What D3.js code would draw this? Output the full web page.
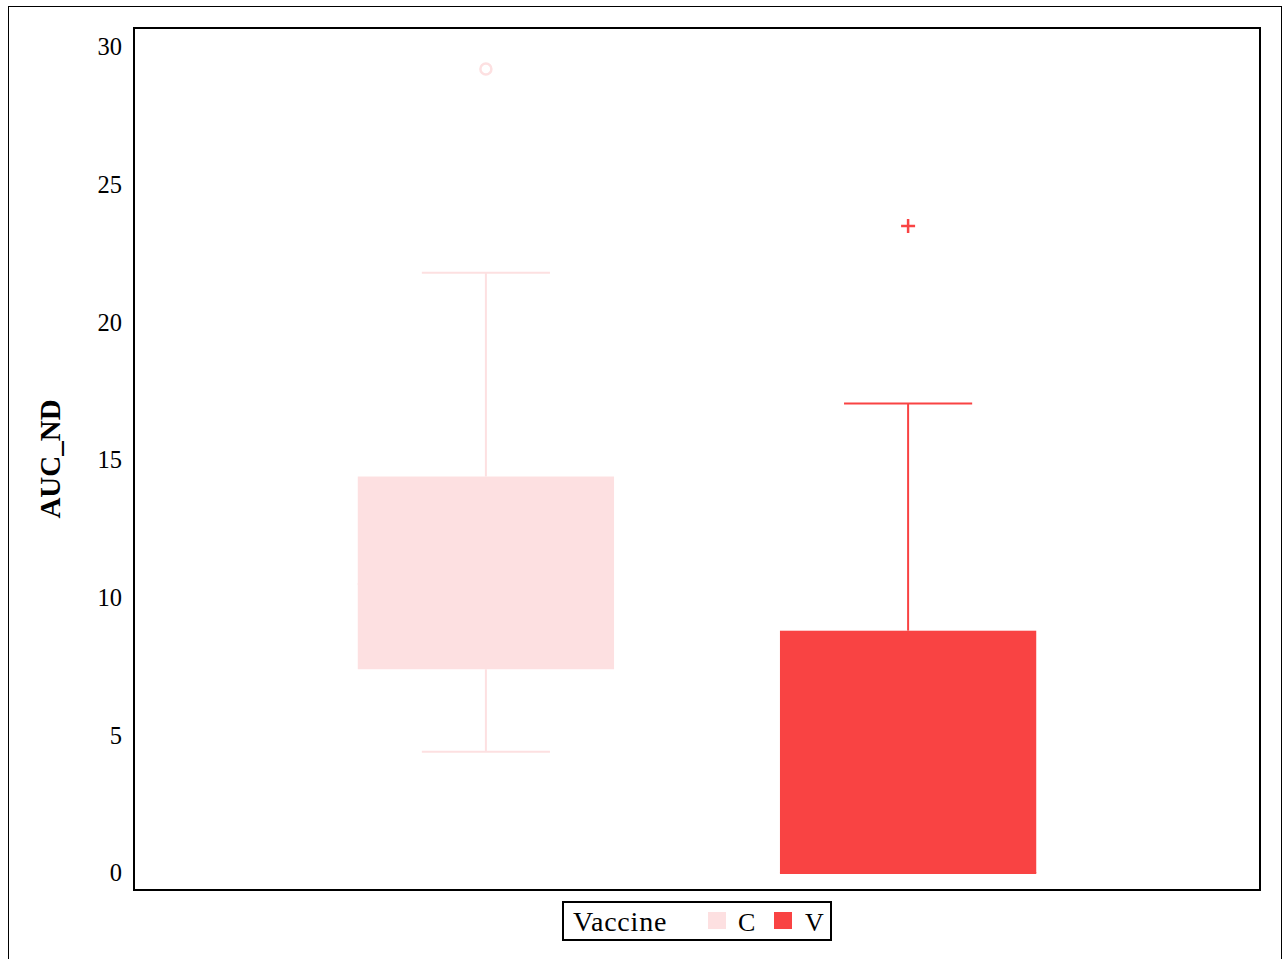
<!DOCTYPE html>
<html>
<head>
<meta charset="utf-8">
<script src="https://cdn.jsdelivr.net/npm/d3@7"></script>
<style>
  html, body { margin: 0; padding: 0; background: #fff; }
  svg { display: block; }
  text { font-family: "Liberation Serif", "Times New Roman", serif; fill: #000; }
</style>
</head>
<body>
<div id="chart"></div>
<script>
(() => {
  "use strict";

  // Box-plot summary per vaccine group
  const groups = ["C", "V"];
  const whiskerLow = [4.4, 0];
  const q1 = [7.4, 0];
  const median = [10.5, 0];
  const q3 = [14.4, 8.8];
  const whiskerHigh = [21.8, 17.05];
  const outliers = [[29.2], [23.5]];
  const yTicks = [0, 5, 10, 15, 20, 25, 30];

  const COLORS = { C: "#fde0e1", V: "#f94343" };
  const SYMBOL = { C: "circle", V: "plus" };

  const W = 1285, H = 959;
  const plot = { left: 134, top: 28, right: 1260, bottom: 890 };

  const svg = d3.select("#chart").append("svg").attr("width", W).attr("height", H);

  // outer frame
  svg.append("rect")
    .attr("x", 8.5).attr("y", 6.5).attr("width", 1273).attr("height", 970)
    .attr("fill", "none").attr("stroke", "#000").attr("stroke-width", 1);

  const x = d3.scaleBand().domain(groups)
    .range([plot.left, plot.right])
    .paddingInner(0.393).paddingOuter(0.53);
  const y = d3.scaleLinear().domain([0, 30]).range([873, 47]);

  const yAxis = svg.append("g")
    .attr("transform", `translate(${plot.left},0)`)
    .call(d3.axisLeft(y).tickValues(yTicks).tickSize(0).tickPadding(12));
  yAxis.select(".domain").remove();
  yAxis.selectAll("text").style("font-size", "24.5px").style("font-family", "Liberation Serif, serif");

  svg.append("text")
    .attr("transform", `translate(60,${(plot.top + plot.bottom) / 2}) rotate(-90)`)
    .attr("text-anchor", "middle")
    .style("font-size", "29px").style("font-weight", "bold")
    .text("AUC_ND");

  const data = groups.map((g, i) => ({
    g, lo: whiskerLow[i], q1: q1[i], med: median[i], q3: q3[i], hi: whiskerHigh[i], out: outliers[i],
  }));

  const bw = x.bandwidth();
  const box = svg.selectAll("g.box").data(data).join("g").attr("class", "box");

  box.each(function (d) {
    const g = d3.select(this);
    const cx = x(d.g) + bw / 2;
    const col = COLORS[d.g];
    const cap = bw / 4;
    g.append("line").attr("x1", cx).attr("x2", cx).attr("y1", y(d.hi)).attr("y2", y(d.q3))
      .attr("stroke", col).attr("stroke-width", 2);
    g.append("line").attr("x1", cx).attr("x2", cx).attr("y1", y(d.q1)).attr("y2", y(d.lo))
      .attr("stroke", col).attr("stroke-width", 2);
    g.append("line").attr("x1", cx - cap).attr("x2", cx + cap).attr("y1", y(d.hi)).attr("y2", y(d.hi))
      .attr("stroke", col).attr("stroke-width", 2);
    g.append("line").attr("x1", cx - cap).attr("x2", cx + cap).attr("y1", y(d.lo)).attr("y2", y(d.lo))
      .attr("stroke", col).attr("stroke-width", 2);
    g.append("rect")
      .attr("x", x(d.g)).attr("width", bw)
      .attr("y", y(d.q3)).attr("height", Math.max(0, y(d.q1) - y(d.q3)))
      .attr("fill", col);
    // median drawn in the fill colour, so it blends in as in the original
    g.append("line").attr("x1", x(d.g)).attr("x2", x(d.g) + bw).attr("y1", y(d.med)).attr("y2", y(d.med))
      .attr("stroke", col).attr("stroke-width", 2);

    d.out.forEach((v) => {
      if (SYMBOL[d.g] === "circle") {
        g.append("circle").attr("cx", cx).attr("cy", y(v)).attr("r", 5.5)
          .attr("fill", "none").attr("stroke", col).attr("stroke-width", 2.5);
      } else {
        g.append("path")
          .attr("d", `M${cx - 7},${y(v)}H${cx + 7}M${cx},${y(v) - 7}V${y(v) + 7}`)
          .attr("stroke", col).attr("stroke-width", 2.5);
      }
    });
  });

  // plot frame
  svg.append("rect")
    .attr("x", plot.left).attr("y", plot.top)
    .attr("width", plot.right - plot.left).attr("height", plot.bottom - plot.top)
    .attr("fill", "none").attr("stroke", "#000").attr("stroke-width", 2);

  // legend
  const lg = svg.append("g").attr("transform", "translate(563,902)");
  lg.append("rect").attr("width", 268).attr("height", 38)
    .attr("fill", "#fff").attr("stroke", "#000").attr("stroke-width", 2);
  lg.append("text").attr("x", 10).attr("y", 29).style("font-size", "28px").style("letter-spacing", "0.8px")
    .text("Vaccine");
  const items = [{ g: "C", sx: 145, tx: 175 }, { g: "V", sx: 211, tx: 242 }];
  items.forEach((it) => {
    lg.append("rect").attr("x", it.sx).attr("y", 10).attr("width", 18).attr("height", 17)
      .attr("fill", COLORS[it.g]);
    lg.append("text").attr("x", it.tx).attr("y", 29).style("font-size", "26px").text(it.g);
  });
})();
</script>
</body>
</html>
